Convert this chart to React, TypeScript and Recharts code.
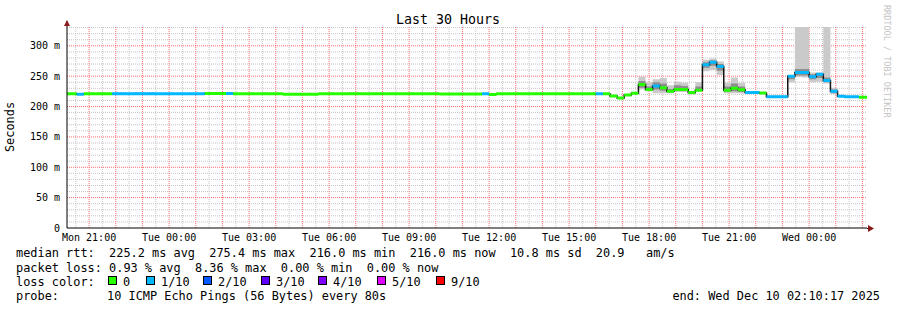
import { ComposedChart, Area, Line, XAxis, YAxis, CartesianGrid, ReferenceLine } from "recharts";

// time is in minutes since Mon 00:00, graph covers Mon 20:10:17 .. Wed 02:10:17
const T_START = 1210.28;
const T_END = 3010.28;
const STEP = 16; // rrd step, 960s
const FIRST_STEP = 75;
const Y_MAX = 331;

// median rtt (ms) for each 16 min step, step 75 .. 187
const median = [
  221, 221, 220.4, 221, 221, 221, 221, 221, 221, 221,
  221.2, 221.2, 221.2, 221.2, 221.2, 221.2, 221.2, 221.2, 221.2, 221.2,
  221.3, 221.3, 221.3, 221.3, 221.2, 221.2, 221.2, 221.2, 221.2, 221.2,
  221.2, 220.4, 220.4, 220.4, 220.4, 220.4, 221.2, 221.2, 221.2, 221.2,
  221.2, 221.2, 221.2, 221.2, 221.2, 221.2, 221.2, 221.2, 221.2, 221.2,
  221.2, 221.2, 221.2, 220.8, 220.8, 220.8, 220.8, 220.8, 220.8, 221,
  220, 221, 221, 221, 221, 221, 221, 221, 221, 221,
  221, 221, 221, 221, 221, 221, 221, 217.5, 214, 219,
  222, 236.5, 228, 234, 231, 225, 228, 228, 223, 227,
  269, 273, 266, 227, 230, 227.5, 223, 223, 222.5, 216,
  216, 216, 250, 256, 256, 249, 253, 243, 225, 217,
  216, 216, 215.5,
];

// lost pings out of 10 for each step
const loss = [
  0, 0, 1, 0, 0, 0, 0, 1, 1, 1,
  1, 1, 1, 1, 1, 1, 1, 1, 1, 1,
  0, 0, 0, 1, 0, 0, 0, 0, 0, 0,
  0, 0, 0, 0, 0, 0, 0, 0, 0, 0,
  0, 0, 0, 0, 0, 0, 0, 0, 0, 0,
  0, 0, 0, 0, 0, 0, 0, 0, 0, 1,
  0, 0, 0, 0, 0, 0, 0, 0, 0, 0,
  0, 0, 0, 0, 0, 1, 0, 0, 0, 0,
  0, 0, 0, 1, 0, 0, 0, 0, 0, 0,
  1, 1, 1, 0, 0, 0, 1, 1, 0, 1,
  1, 1, 1, 1, 1, 1, 1, 1, 1, 1,
  1, 1, 0,
];

// smoke (spread of the pings) for the steps where it shows
const smokeStep = [80, 82, 83, 85, 86, 87, 103, 115, 116, 156, 157, 158, 159, 160, 161, 162, 163, 164, 165, 166, 167, 168, 169, 170, 171, 172, 174, 175, 176, 177, 178, 179, 180, 181, 182, 183, 184];
const smokeLo = [221, 221, 221, 221.2, 221.2, 221.2, 221.2, 221.2, 221.2, 228, 225, 222, 222, 222, 224, 224, 220, 225, 258, 260, 252, 222, 222, 222, 221, 221, 215, 215, 215, 240, 249, 248, 240, 241, 238, 221, 216];
const smokeHi = [223.5, 223.5, 223.5, 223.5, 223.5, 223.5, 223.5, 223, 223, 249, 240, 245, 247, 235, 241, 239, 226, 240, 277, 279, 274, 239, 248, 239, 224, 224, 218, 218, 218, 252, 340, 340, 256, 256, 340, 231, 218];
const coreLo = [null, null, null, null, null, null, null, null, null, 231, 226, 228, 226, 223, 226, 226, 221, 226, 264, 267, 259, 224, 225, 224, null, null, null, null, null, 245, 251, 251, 245, 247, 240, 222, null];
const coreHi = [null, null, null, null, null, null, null, null, null, 242, 233, 240, 238, 229, 235, 234, 225, 233, 273, 276, 270, 233, 238, 233, null, null, null, null, null, 251, 262, 262, 253, 255, 248, 228, null];

const xTicks = [1260, 1440, 1620, 1800, 1980, 2160, 2340, 2520, 2700, 2880];
const xTickLabels = ["Mon 21:00", "Tue 00:00", "Tue 03:00", "Tue 06:00", "Tue 09:00", "Tue 12:00", "Tue 15:00", "Tue 18:00", "Tue 21:00", "Wed 00:00"];
const yTicks = [0, 50, 100, 150, 200, 250, 300];

const lossLabels = ["0", "1/10", "2/10", "3/10", "4/10", "5/10", "9/10"];
const lossColors = ["#26ff00", "#00b8ff", "#0059ff", "#5e00ff", "#7e00ff", "#dd00ff", "#ff0000"];
const legendX = [108, 146, 203, 261, 318, 377, 436];

const FONT = "DejaVu Sans Mono";
const pre = (s: string) => s.replace(/ /g, "\u00A0");

const rows = median.map((m, i) => {
  const k = FIRST_STEP + i;
  const j = smokeStep.indexOf(k);
  return {
    t: Math.max(k * STEP, T_START),
    med: m,
    smoke: j >= 0 ? [smokeLo[j], smokeHi[j]] : [m, m],
    core: j >= 0 && coreLo[j] != null ? [coreLo[j], coreHi[j]] : [m, m],
  };
});
rows.push({ ...rows[rows.length - 1], t: T_END });

function segments(level: number) {
  const out: { t: number; v: number | null }[] = [];
  for (let i = 0; i < median.length; i++) {
    if (loss[i] !== level) continue;
    out.push({ t: rows[i].t, v: rows[i].med }, { t: rows[i + 1].t, v: rows[i].med }, { t: rows[i + 1].t, v: null });
  }
  return out;
}

// grid every 30 min / 10 ms, every hour / 50 ms drawn in red
const minorX: number[] = [];
const majorX: number[] = [];
for (let t = 1230; t < T_END; t += 30) (t % 60 === 0 ? majorX : minorX).push(t);
const minorY: number[] = [];
const majorY: number[] = [];
for (let v = 10; v <= 330; v += 10) (v % 50 === 0 ? majorY : minorY).push(v);

const MAJOR = "#ff6a6a";
const MINOR = "#c4c4c4";

export default function App() {
  return (
    <div style={{ position: "fixed", left: 0, top: 0, width: 897, height: 310, background: "#fff" }}>
      <ComposedChart width={897} height={310} data={rows} margin={{ top: 27, right: 30, bottom: 62, left: 7 }}>
        <CartesianGrid horizontalValues={minorY} verticalValues={minorX} stroke={MINOR} strokeDasharray="1 1" />
        <XAxis
          type="number"
          dataKey="t"
          domain={[T_START, T_END]}
          allowDataOverflow
          ticks={xTicks}
          interval={0}
          tickFormatter={(v) => xTickLabels[xTicks.indexOf(v)]}
          tickLine={false}
          tickSize={4}
          tickMargin={2}
          height={20}
          stroke="#000"
          tick={{ fontSize: 10, fill: "#000", fontFamily: FONT }}
        />
        <YAxis
          type="number"
          domain={[0, Y_MAX]}
          allowDataOverflow
          ticks={yTicks}
          interval={0}
          tickFormatter={(v) => (v === 0 ? "0" : `${v} m`)}
          tickLine={false}
          tickSize={5}
          tickMargin={2}
          width={60}
          stroke="#000"
          tick={{ fontSize: 10, fill: "#000", fontFamily: FONT }}
        />
        {majorX.map((t) => (
          <ReferenceLine key={"x" + t} x={t} ifOverflow="visible" stroke={MAJOR} strokeWidth={1} strokeDasharray="1 1" zIndex={-50} />
        ))}
        {majorY.map((v) => (
          <ReferenceLine key={"y" + v} y={v} ifOverflow="visible" stroke={MAJOR} strokeWidth={1} strokeDasharray="1 1" zIndex={-50} />
        ))}
        <Area dataKey="smoke" type="stepAfter" fill="#cacaca" fillOpacity={1} stroke="none" isAnimationActive={false} />
        <Area dataKey="core" type="stepAfter" fill="#8e8e8e" fillOpacity={1} stroke="none" isAnimationActive={false} />
        <Line dataKey="med" type="stepAfter" stroke="#141414" strokeWidth={1.5} dot={false} isAnimationActive={false} />
        {[0, 1].map((lv) => (
          <Line
            key={lv}
            data={segments(lv)}
            dataKey="v"
            type="linear"
            stroke={lossColors[lv]}
            strokeWidth={3}
            strokeLinecap="butt"
            dot={false}
            connectNulls={false}
            isAnimationActive={false}
          />
        ))}
      </ComposedChart>
      <svg width={897} height={310} style={{ position: "absolute", left: 0, top: 0, pointerEvents: "none" }} fontFamily={FONT}>
        <text x={448} y={23.5} fontSize={13.3} textAnchor="middle" fill="#000">Last 30 Hours</text>
        <text x={14} y={127} fontSize={11.9} textAnchor="middle" fill="#000" transform="rotate(-90 14 127)">Seconds</text>
        <text x={884} y={5} fontSize={8.5} fill="#c4c4c4" transform="rotate(90 884 5)">{pre("RRDTOOL / TOBI OETIKER")}</text>
        <line x1={67} y1={21} x2={67} y2={27} stroke="#000" />
        <line x1={867} y1={228.5} x2={870} y2={228.5} stroke="#000" />
        <polygon points="64,26 70,26 67,20" fill="#8b1a1a" />
        <polygon points="868,225 868,232 874,228.5" fill="#8b1a1a" />
        <g fontSize={11.9} fill="#000">
          <text x={16} y={257}>{pre("median rtt:  225.2 ms avg  275.4 ms max  216.0 ms min  216.0 ms now  10.8 ms sd  20.9   am/s")}</text>
          <text x={16} y={271.5}>{pre("packet loss: 0.93 % avg  8.36 % max  0.00 % min  0.00 % now")}</text>
          <text x={16} y={286}>{pre("loss color:")}</text>
          <text x={16} y={300}>{pre("probe:")}</text>
          <text x={107} y={300}>{pre("10 ICMP Echo Pings (56 Bytes) every 80s")}</text>
          <text x={880} y={300} textAnchor="end">{pre("end: Wed Dec 10 02:10:17 2025")}</text>
        </g>
        {lossLabels.map((lb, i) => (
          <g key={lb}>
            <rect x={legendX[i] + 0.5} y={276.5} width={8} height={8} fill={lossColors[i]} stroke="#000" />
            <text x={legendX[i] + 15} y={286} fontSize={11.9} fill="#000">{lb}</text>
          </g>
        ))}
      </svg>
    </div>
  );
}
